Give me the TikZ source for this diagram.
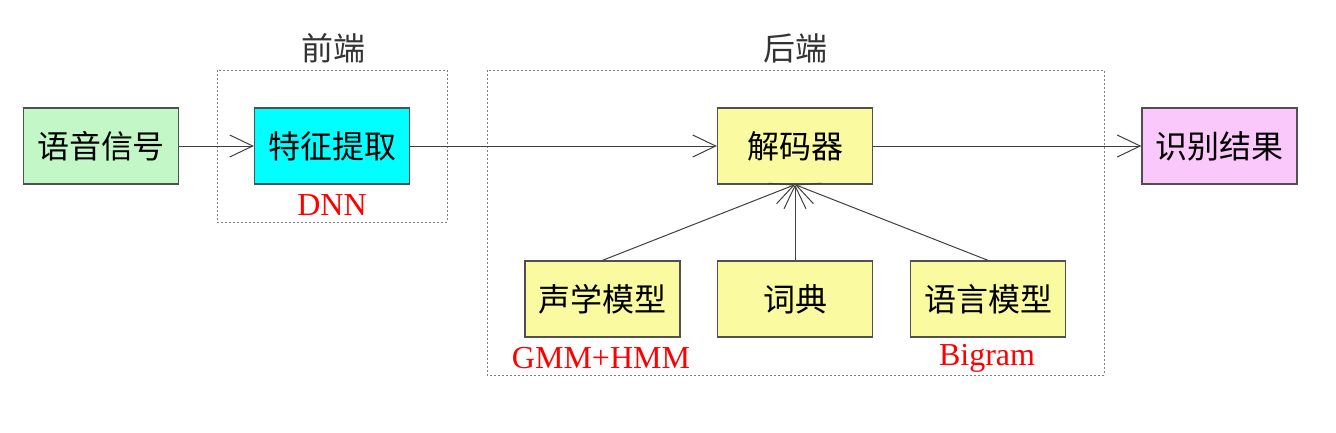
\documentclass[tikz,border=0pt]{standalone}
\usepackage{fontspec}
\setmainfont{Liberation Serif}
\newfontfamily\cjk{Noto Sans CJK SC}
\usetikzlibrary{arrows.meta}
\definecolor{bgreen}{HTML}{C4F7C8}
\definecolor{bcyan}{HTML}{00FFFF}
\definecolor{byellow}{HTML}{FAFAA0}
\definecolor{bpink}{HTML}{FAC8FA}
\definecolor{bline}{HTML}{505050}
\definecolor{lred}{HTML}{FF0000}
\tikzset{
  blk/.style={draw=bline, line width=1.3pt, minimum width=155pt, minimum height=76pt, inner sep=0pt, font=\cjk\fontsize{32}{36}\selectfont, text=black},
  grp/.style={draw=gray, line width=1pt, dash pattern=on 2pt off 2pt},
  lab/.style={font=\cjk\fontsize{32}{36}\selectfont, text=black!80},
  redlab/.style={font=\fontsize{32}{36}\selectfont, text=lred},
  conn/.style={draw=black!75, line width=1pt, -{Straight Barb[length=23pt,width=22pt,line width=1pt]}},
}
\begin{document}
\begin{tikzpicture}[x=1pt,y=-1pt]
\useasboundingbox[fill=white] (0,0) rectangle (1336,432);
% group boxes
\draw[grp] (217,70) rectangle (447,222);
\draw[grp] (487,70) rectangle (1104,375);
\node[lab] (fe) at (333,48) {前端};
\node[lab] (be) at (795,48) {后端};
% blocks
\node[blk, fill=bgreen] (sig) at (101,146) {语音信号};
\node[blk, fill=bcyan] (feat) at (332,146) {特征提取};
\node[blk, fill=byellow] (dec) at (795,146) {解码器};
\node[blk, fill=bpink] (res) at (1219.5,146) {识别结果};
\node[blk, fill=byellow] (ac) at (602.5,299) {声学模型};
\node[blk, fill=byellow] (dic) at (795,299) {词典};
\node[blk, fill=byellow] (lm) at (988,299) {语言模型};
% red labels
\node[redlab] (dnn) at (332,205) {DNN};
\node[redlab] (gmm) at (601,358) {GMM+HMM};
\node[redlab] (big) at (987,358) {Bigram};
% connectors
\draw[conn] (sig.east) -- (feat.west);
\draw[conn] (feat.east) -- (dec.west);
\draw[conn] (dec.east) -- (res.west);
\draw[conn] (ac.north) -- (dec.south);
\draw[conn] (dic.north) -- (dec.south);
\draw[conn] (lm.north) -- (dec.south);
\end{tikzpicture}
\end{document}
